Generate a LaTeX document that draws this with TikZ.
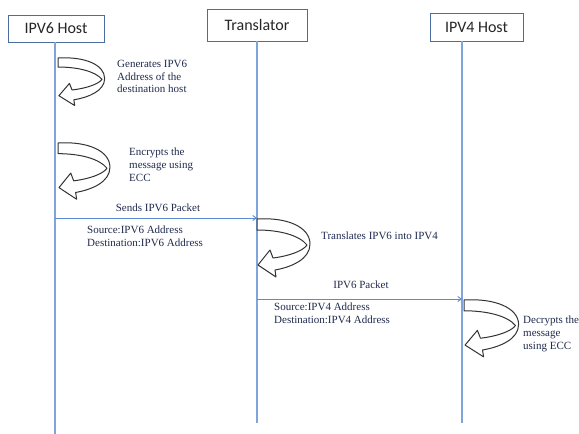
\documentclass[tikz,border=0pt]{standalone}
\usepackage{fontspec}
\setmainfont{Liberation Serif}
\newfontfamily\hdrfont{Carlito}
\usetikzlibrary{arrows.meta}
\definecolor{boxc}{HTML}{4A6C9E}
\definecolor{lifec}{HTML}{7FA5DA}
\definecolor{msgc}{HTML}{5B8CD2}
\definecolor{txtc}{HTML}{1F2A4D}
\definecolor{hdrc}{HTML}{262626}
\definecolor{arrc}{HTML}{333333}
\tikzset{
  hdr/.style={draw=boxc, line width=0.9pt, fill=white, inner sep=0pt,
    font=\hdrfont\fontsize{16}{18}\selectfont, text=hdrc},
  lifeline/.style={draw=lifec, line width=1.1pt},
  msg/.style={draw=msgc, line width=0.9pt, -{Straight Barb[length=3.5pt,width=5pt]}},
  lbl/.style={inner sep=0pt, font=\fontsize{11}{12.7}\selectfont, text=txtc, align=left},
  uturn/.pic={\draw[line width=1pt, draw=arrc, fill=white, line join=round]
    (0,0) .. controls (30,-2) and (53,8) .. (53,25)
    .. controls (53,40) and (35,48) .. (18,51)
    -- (19,58) -- (1,46) -- (13,31) -- (16,39)
    .. controls (32,37) and (46,32) .. (50,26)
    .. controls (42,16) and (22,11) .. (0,11) -- cycle;}
}
\begin{document}
\begin{tikzpicture}[x=1pt,y=-1pt]
\useasboundingbox (0,0) rectangle (579,434);
% headers
\node[hdr, minimum width=96pt, minimum height=27pt] (h6) at (56,28.5) {IPV6 Host};
\node[hdr, minimum width=100pt, minimum height=32pt] (tr) at (257,25) {Translator};
\node[hdr, minimum width=93pt, minimum height=28pt] (h4) at (476.5,27) {IPV4 Host};
% lifeline ends
\coordinate (h6top) at (55,42);
\coordinate (h6end) at (55,434);
\coordinate (trend) at (257,423);
\coordinate (h4top) at (462,41);
\coordinate (h4end) at (462,423);
\draw[lifeline] (h6top) -- (h6end);
\draw[lifeline] (tr.south) -- (trend);
\draw[lifeline] (h4top) -- (h4end);
% self actions
\pic[xscale=0.88,yscale=0.82] at (58,58) {uturn};
\node[lbl, anchor=north west] (t1) at (117,60) {Generates IPV6\\Address of the\\destination host};
\pic[xscale=0.98,yscale=0.97] at (58,143) {uturn};
\node[lbl, anchor=north west] (t2) at (129,148) {Encrypts the\\message using\\ECC};
% message 1
\coordinate (m1a) at (55,218);
\coordinate (m1b) at (257,218);
\draw[msg] (m1a) -- (m1b);
\node[lbl, anchor=south] (l1) at (158,212) {Sends IPV6 Packet};
\node[lbl, anchor=north west] (l1b) at (87,226) {Source:IPV6 Address\\Destination:IPV6 Address};
% translate
\pic at (257,219) {uturn};
\node[lbl, anchor=west] (t3) at (321,236) {Translates IPV6 into IPV4};
% message 2
\coordinate (m2a) at (257,299);
\coordinate (m2b) at (462,299);
\draw[msg] (m2a) -- (m2b);
\node[lbl, anchor=south] (l2) at (361,289) {IPV6 Packet};
\node[lbl, anchor=north west] (l2b) at (274,303) {Source:IPV4 Address\\Destination:IPV4 Address};
% decrypt
\pic[xscale=1.03,yscale=0.98] at (464,300) {uturn};
\node[lbl, anchor=north west] (t4) at (523,316) {Decrypts the\\message\\using ECC};
\end{tikzpicture}
\end{document}
